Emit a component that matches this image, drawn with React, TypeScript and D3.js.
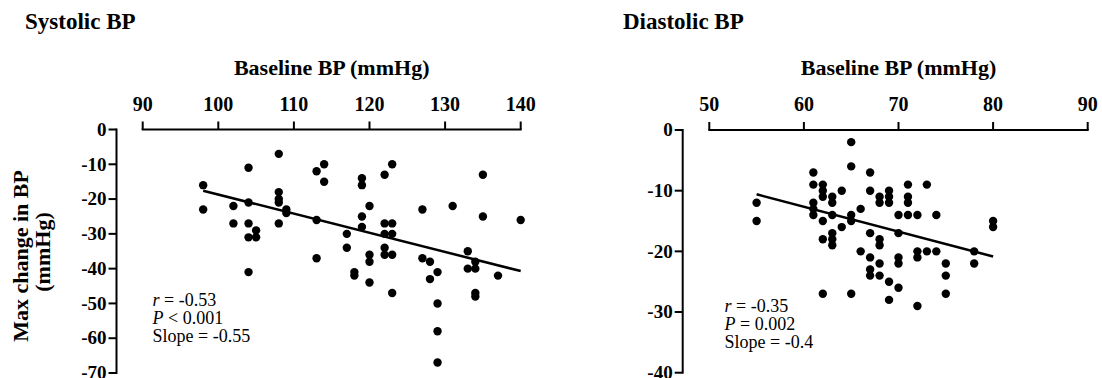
import React from "react";
import * as d3 from "d3";

// ---------- Data ----------
const sysTicksX = [90, 100, 110, 120, 130, 140];
const sysTicksY = [0, -10, -20, -30, -40, -50, -60, -70];
const sysBaseline = [98, 98, 104, 104, 104, 104, 105, 105, 104, 102, 102, 108, 108, 108, 108, 109, 109, 108, 113, 114, 114, 113, 113, 117, 117, 118, 118, 119, 119, 119, 119, 120, 120, 120, 120, 122, 123, 122, 123, 122, 123, 122, 122, 123, 123, 127, 127, 128, 128, 129, 129, 129, 129, 131, 133, 133, 134, 134, 134, 134, 135, 135, 137, 140];
const sysChange = [-16, -23, -11, -21, -27, -31, -29, -31, -41, -22, -27, -7, -18, -20, -21, -23, -24, -27, -12, -10, -15, -26, -37, -30, -34, -41, -42, -14, -16, -25, -28, -22, -36, -38, -44, -13, -10, -27, -27, -30, -30, -34, -36, -36, -47, -23, -37, -38, -43, -41, -50, -58, -67, -22, -35, -40, -38, -40, -47, -48, -13, -25, -42, -26];
const sysFit = { slope: -0.55, intercept: 36.3, from: 98, to: 140 };
const sysStats = ["r = -0.53", "P < 0.001", "Slope = -0.55"];

const diaTicksX = [50, 60, 70, 80, 90];
const diaTicksY = [0, -10, -20, -30, -40];
const diaBaseline = [55, 55, 61, 61, 61, 61, 61, 62, 62, 62, 62, 62, 62, 63, 63, 63, 63, 63, 63, 64, 64, 65, 65, 65, 65, 65, 66, 66, 67, 67, 67, 67, 67, 67, 68, 68, 68, 68, 68, 68, 69, 69, 69, 69, 69, 70, 70, 70, 70, 70, 71, 71, 71, 71, 72, 72, 72, 72, 73, 73, 74, 74, 75, 75, 75, 78, 78, 80, 80];
const diaChange = [-12, -15, -7, -9, -12, -13, -14, -9, -10, -11, -15, -18, -27, -11, -12, -14, -17, -18, -19, -10, -16, -2, -6, -14, -15, -27, -13, -20, -7, -10, -17, -21, -23, -24, -11, -12, -18, -19, -22, -24, -10, -11, -12, -25, -28, -14, -17, -21, -22, -26, -9, -11, -12, -14, -14, -20, -21, -29, -9, -20, -14, -20, -22, -24, -27, -20, -22, -15, -16];
const diaFit = { slope: -0.41, intercept: 11.95, from: 55, to: 80 };
const diaStats = ["r = -0.35", "P = 0.002", "Slope = -0.4"];

const FONT = "Liberation Serif, DejaVu Serif, serif";

type PanelProps = {
  title: string;
  titleX: number;
  xDomain: [number, number];
  xRange: [number, number];
  yDomain: [number, number];
  yRange: [number, number];
  axisX: number;
  ticksX: number[];
  ticksY: number[];
  xs: number[];
  ys: number[];
  fit: { slope: number; intercept: number; from: number; to: number };
  stats: string[];
  statsX: number;
  statsY: number;
  yLabel?: boolean;
};

const serif = { fontFamily: FONT };

function StatLine({ s, x, y }: { s: string; x: number; y: number }) {
  const first = s.charAt(0);
  const italic = first === "r" || first === "P";
  return (
    <text x={x} y={y} style={serif} fontSize={18} fill="#000">
      {italic ? (
        <>
          <tspan fontStyle="italic">{first}</tspan>
          <tspan>{s.slice(1)}</tspan>
        </>
      ) : (
        s
      )}
    </text>
  );
}

function Panel(p: PanelProps) {
  const x = d3.scaleLinear().domain(p.xDomain).range(p.xRange);
  const y = d3.scaleLinear().domain(p.yDomain).range(p.yRange);
  const y0 = y(0);
  const line = d3
    .line<number>()
    .x((d) => x(d))
    .y((d) => y(p.fit.intercept + p.fit.slope * d));
  return (
    <g>
      <text x={p.titleX} y={29} style={serif} fontWeight="bold" fontSize={23}>
        {p.title}
      </text>
      <text
        x={(p.xRange[0] + p.xRange[1]) / 2}
        y={75}
        textAnchor="middle"
        style={serif}
        fontWeight="bold"
        fontSize={22}
      >
        Baseline BP (mmHg)
      </text>
      {/* top x axis */}
      <line x1={p.xRange[0]} x2={p.xRange[1]} y1={y0} y2={y0} stroke="#000" strokeWidth={2} strokeLinecap="square" />
      {p.ticksX.map((t) => (
        <g key={"x" + t}>
          <line x1={x(t)} x2={x(t)} y1={y0} y2={y0 - 8} stroke="#000" strokeWidth={2} />
          <text x={x(t)} y={111} textAnchor="middle" style={serif} fontWeight="bold" fontSize={20}>
            {t}
          </text>
        </g>
      ))}
      {/* left y axis */}
      <line x1={p.axisX} x2={p.axisX} y1={p.yRange[0] - 1} y2={p.yRange[1] + 1} stroke="#000" strokeWidth={2} />
      {p.ticksY.map((t) => (
        <g key={"y" + t}>
          <line x1={p.axisX - 8} x2={p.axisX} y1={y(t)} y2={y(t)} stroke="#000" strokeWidth={2} />
          <text
            x={p.axisX - 10}
            y={y(t)}
            dy="0.33em"
            textAnchor="end"
            style={serif}
            fontWeight="bold"
            fontSize={19}
          >
            {t}
          </text>
        </g>
      ))}
      {/* regression line */}
      <path d={line([p.fit.from, p.fit.to]) || ""} stroke="#000" strokeWidth={2.5} fill="none" />
      {/* points */}
      {p.xs.map((v, i) => (
        <circle key={i} cx={x(v)} cy={y(p.ys[i])} r={4.2} fill="#000" />
      ))}
      {p.stats.map((s, i) => (
        <StatLine key={i} s={s} x={p.statsX} y={p.statsY + i * 18} />
      ))}
      {p.yLabel && (
        <g style={serif} fontWeight="bold" fontSize={22}>
          <text transform="translate(28,256) rotate(-90)" textAnchor="middle">
            Max change in BP
          </text>
          <text transform="translate(50,252) rotate(-90)" textAnchor="middle">
            (mmHg)
          </text>
        </g>
      )}
    </g>
  );
}

export default function App() {
  return (
    <svg
      width={1102}
      height={378}
      style={{ position: "absolute", left: 0, top: 0, display: "block", background: "#fff" }}
    >
      <rect width={1102} height={378} fill="#fff" />
      <Panel
        title="Systolic BP"
        titleX={25}
        xDomain={[90, 140]}
        xRange={[142.7, 520.7]}
        yDomain={[0, -70]}
        yRange={[129.5, 373]}
        axisX={116.5}
        ticksX={sysTicksX}
        ticksY={sysTicksY}
        xs={sysBaseline}
        ys={sysChange}
        fit={sysFit}
        stats={sysStats}
        statsX={152.5}
        statsY={306}
        yLabel
      />
      <Panel
        title="Diastolic BP"
        titleX={623}
        xDomain={[50, 90]}
        xRange={[709.3, 1087.7]}
        yDomain={[0, -40]}
        yRange={[130, 372.7]}
        axisX={682.7}
        ticksX={diaTicksX}
        ticksY={diaTicksY}
        xs={diaBaseline}
        ys={diaChange}
        fit={diaFit}
        stats={diaStats}
        statsX={724.5}
        statsY={312}
      />
    </svg>
  );
}
